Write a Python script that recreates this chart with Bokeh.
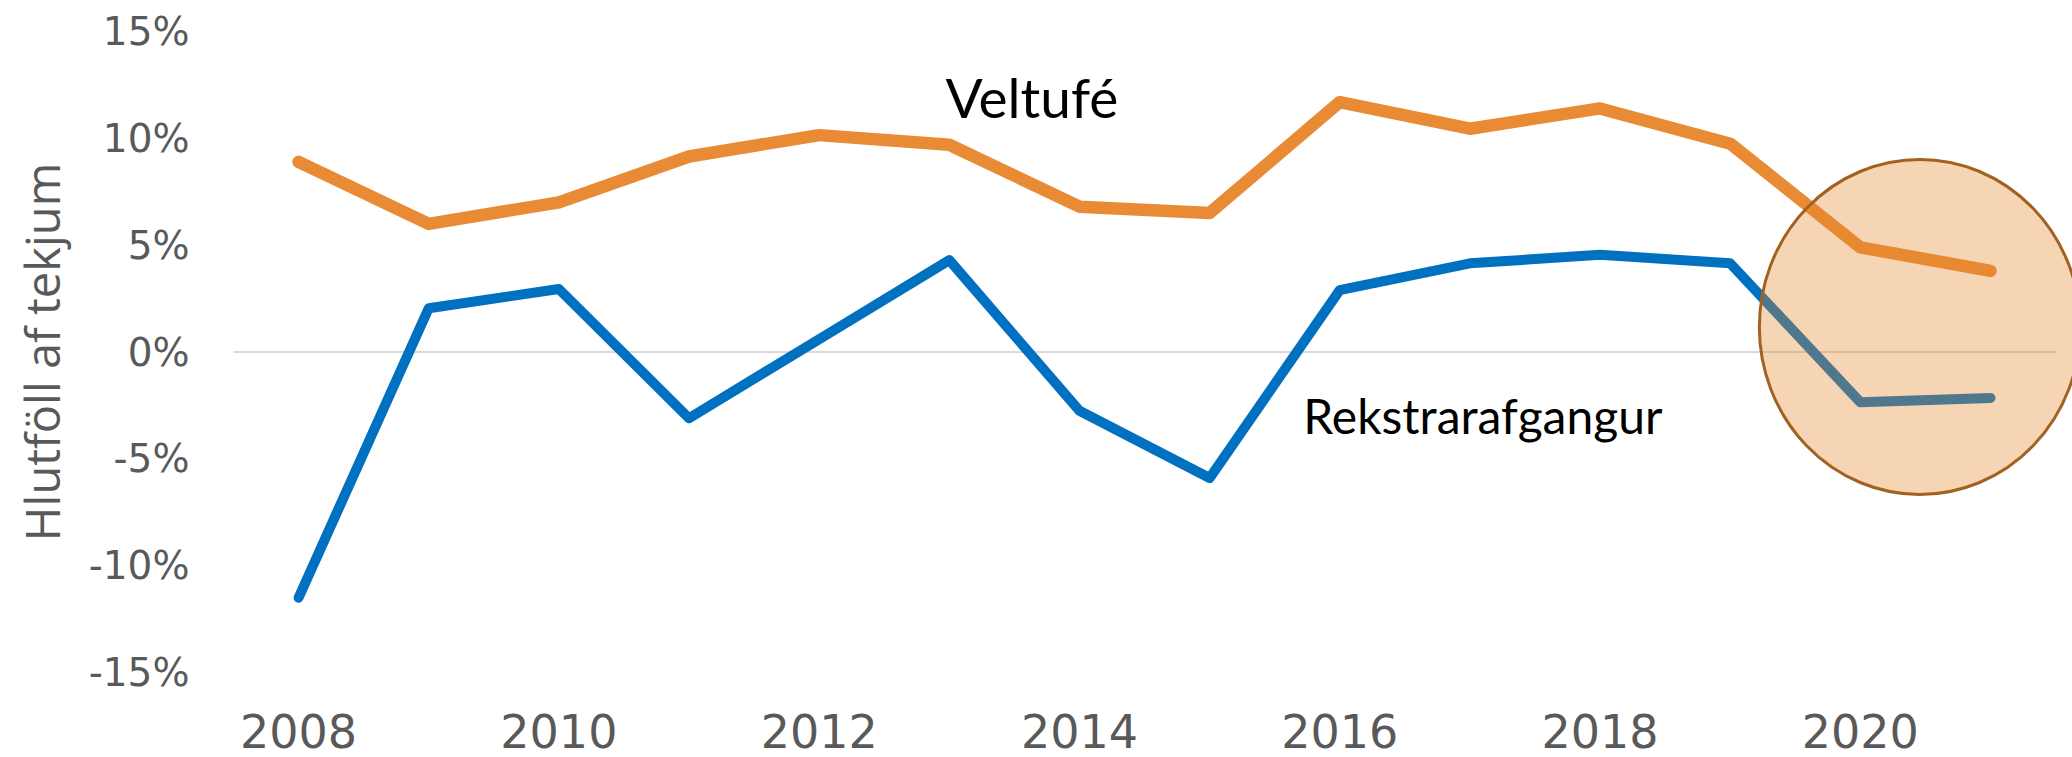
from bokeh.plotting import figure
from bokeh.models import Range1d, FixedTicker, PrintfTickFormatter
from bokeh.core.properties import value
from bokeh.embed import file_html
from bokeh.resources import INLINE

years = [2008, 2009, 2010, 2011, 2012, 2013, 2014, 2015, 2016, 2017, 2018, 2019, 2020, 2021]
veltufe = [8.9, 6.0, 7.0, 9.15, 10.15, 9.7, 6.8, 6.5, 11.7, 10.45, 11.4, 9.75, 4.9, 3.8]
rekstrarafgangur = [-11.5, 2.05, 2.95, -3.1, 0.6, 4.3, -2.75, -5.9, 2.9, 4.15, 4.55, 4.15, -2.35, -2.15]
y_ticks = [-15, -10, -5, 0, 5, 10, 15]
x_ticks = [2008, 2010, 2012, 2014, 2016, 2018, 2020]

p = figure(width=2072, height=757, output_backend="svg", toolbar_location=None,
           x_range=Range1d(2007.5, 2021.63), y_range=Range1d(-15, 15),
           min_border_left=233, min_border_right=0, min_border_top=31, min_border_bottom=85)
p.outline_line_color = None
p.xgrid.visible = False
p.ygrid.visible = False
p.background_fill_color = "white"
p.border_fill_color = "white"

tick_color = "#595959"
p.yaxis.ticker = FixedTicker(ticks=y_ticks)
p.yaxis.formatter = PrintfTickFormatter(format="%d%%")
p.yaxis.axis_line_color = None
p.yaxis.major_tick_line_color = None
p.yaxis.minor_tick_line_color = None
p.yaxis.major_tick_out = 0
p.yaxis.major_label_standoff = 44
p.yaxis.major_label_text_font = "DejaVu Sans"
p.yaxis.major_label_text_font_size = "39px"
p.yaxis.major_label_text_color = tick_color
p.yaxis.axis_label = "Hlutföll af tekjum"
p.yaxis.axis_label_text_font = "Open Sans"
p.yaxis.axis_label_text_font_size = "47px"
p.yaxis.axis_label_text_font_style = "normal"
p.yaxis.axis_label_text_color = tick_color
p.yaxis.axis_label_text_baseline = "bottom"
p.yaxis.axis_label_standoff = 12

p.xaxis.ticker = FixedTicker(ticks=x_ticks)
p.xaxis.axis_line_color = None
p.xaxis.major_tick_line_color = None
p.xaxis.minor_tick_line_color = None
p.xaxis.major_tick_out = 0
p.xaxis.major_label_standoff = 41
p.xaxis.major_label_text_font = "DejaVu Sans"
p.xaxis.major_label_text_font_size = "46px"
p.xaxis.major_label_text_color = tick_color

# zero line
p.segment(x0=[2007.5], y0=[0], x1=[2021.5], y1=[0], line_color="#D9D9D9", line_width=2)

p.line(years, veltufe, line_color="#E98B35", line_width=12.5, line_cap="round", line_join="round")
p.line(years, rekstrarafgangur, line_color="#0070C0", line_width=10, line_cap="round", line_join="round")

# highlight ellipse
p.ellipse(x=[2020.457], y=[1.17], width=[2.466], height=[15.68],
          fill_color="#E5872C", fill_alpha=0.35, line_color="#A3611F", line_width=3)

p.text(x=[2012.97], y=[11.92], text=["Veltufé"], text_font=value("Lato"),
       text_font_size=value("55px"), text_color="black", text_baseline="alphabetic", text_align="left")
p.text(x=[2015.72], y=[-2.96], text=["Rekstrarafgangur"], text_font=value("Lato"),
       text_font_size=value("48px"), text_color="black", text_baseline="alphabetic", text_align="left")

open("out.html", "w").write(file_html(p, INLINE))
